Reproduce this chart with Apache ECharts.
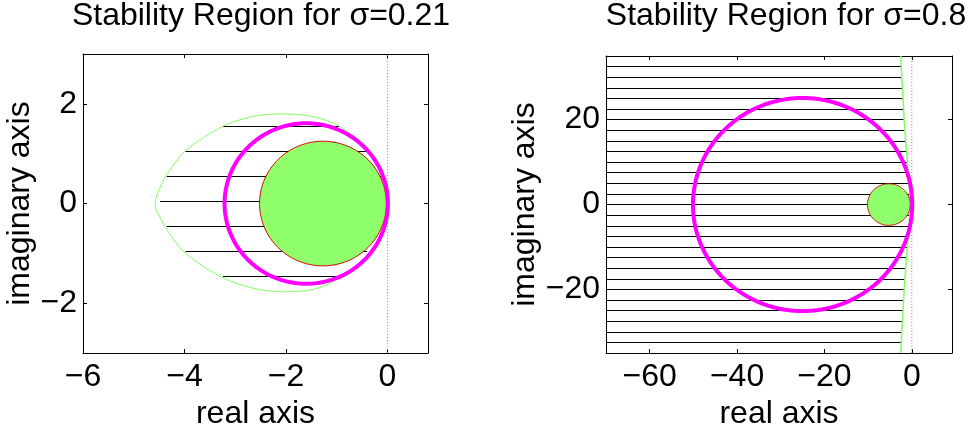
<!DOCTYPE html>
<html><head><meta charset="utf-8">
<script src="https://cdn.jsdelivr.net/npm/echarts@6/dist/echarts.min.js"></script>
<style>html,body{margin:0;padding:0;background:#fff}#c{width:979px;height:435px}</style>
</head><body><div id="c"></div>
<script>
// ---------- Left panel (sigma = 0.21) ----------
const leftTitle = 'Stability Region for σ=0.21';
const leftXTicks = [-6, -4, -2, 0];
const leftYTicks = [-2, 0, 2];
const leftHatchY     = [1.55, 1.05, 0.55, 0.05, -0.45, -0.95, -1.45];
const leftHatchStart = [-3.24, -3.98, -4.35, -4.48, -4.35, -3.98, -3.24];
const leftHatchEnd   = [-0.95, -0.40, -0.12, 0.0, -0.12, -0.40, -0.99];
const leftCurveX = [0, -0.12, -0.38, -0.95, -1.45, -2.04, -2.64, -3.24, -3.98, -4.35, -4.49, -4.56, -4.58, -4.56, -4.49, -4.35, -3.98, -3.24, -2.64, -2.04, -1.45, -0.99, -0.38, -0.12, 0];
const leftCurveY = [0, 0.6, 1.08, 1.55, 1.74, 1.80, 1.75, 1.55, 1.06, 0.58, 0.30, 0.12, 0, -0.12, -0.27, -0.52, -1.0, -1.49, -1.70, -1.77, -1.72, -1.52, -1.05, -0.6, 0];
const leftFillCircle = [-1.27, 0, 1.25];     // centre x, centre y, radius
const leftRing = [-1.6, 0, 1.61];
const leftZeroY = [-3, 3];

// ---------- Right panel (sigma = 0.8) ----------
const rightTitle = 'Stability Region for σ=0.8';
const rightXTicks = [-60, -40, -20, 0];
const rightYTicks = [-20, 0, 20];
const rightHatchY = [32.5, 30, 27.5, 25, 22.5, 20, 17.5, 15, 12.5, 10, 7.5, 5, 2.5, 0,
  -2.5, -5, -7.5, -10, -12.5, -15, -17.5, -20, -22.5, -25, -27.5, -30, -32.5];
const rightHatchStart = -70;
const rightHatchEnd = [-2.4, -2.3, -2.15, -2.0, -1.9, -1.75, -1.6, -1.4, -1.2, -1.0, -0.8, -0.6, -0.45, -0.35,
  -0.45, -0.6, -0.8, -1.0, -1.2, -1.4, -1.6, -1.75, -1.9, -2.0, -2.15, -2.3, -2.4];
const rightCurveX = [-2.5, -2.3, -2.0, -1.75, -1.4, -1.0, -0.6, -0.35, -0.6, -1.0, -1.4, -1.75, -2.0, -2.3, -2.5];
const rightCurveY = [35, 30, 25, 20, 15, 10, 5, 0, -5, -10, -15, -20, -25, -30, -35];
const rightFillCircle = [-5.25, 0, 4.9];
const rightRing = [-25, 0, 25.1];
const rightZeroY = [-35, 35];

const FONT = 'Liberation Sans, Arial, Helvetica, sans-serif';
const FS = 32;
const GREEN_FILL = '#8fff6b';
const GREEN_LINE = '#80ff60';
const MAGENTA = '#ff00ff';
const RED = '#d40000';

const chart = echarts.init(document.getElementById('c'), null, {renderer: 'canvas'});

const grids = [
  {left: 83, top: 54, width: 345, height: 303},
  {left: 606, top: 56, width: 346, height: 304}
];

function fmt(v) { return String(v).replace('-', '\u2212'); }

function makeX(gi, min, max, ticks, pos, showLabel) {
  return {
    type: 'value', gridIndex: gi, min: min, max: max, position: pos,
    name: showLabel ? 'real axis' : '', nameLocation: 'middle', nameGap: 41,
    nameTextStyle: {fontFamily: FONT, fontSize: FS, color: '#000'},
    axisLine: {show: true, onZero: false, lineStyle: {color: '#000', width: 1}},
    axisTick: {show: true, inside: true, length: 4, customValues: ticks, lineStyle: {color: '#000'}},
    axisLabel: {show: showLabel, customValues: ticks, formatter: fmt, margin: 8,
      fontFamily: FONT, fontSize: FS, color: '#000'},
    splitLine: {show: false}
  };
}
function makeY(gi, min, max, ticks, pos, showLabel, gap) {
  return {
    type: 'value', gridIndex: gi, min: min, max: max, position: pos,
    name: showLabel ? 'imaginary axis' : '', nameLocation: 'middle', nameGap: gap,
    nameTextStyle: {fontFamily: FONT, fontSize: FS, color: '#000'},
    axisLine: {show: true, onZero: false, lineStyle: {color: '#000', width: 1}},
    axisTick: {show: true, inside: true, length: 4, customValues: ticks, lineStyle: {color: '#000'}},
    axisLabel: {show: showLabel, customValues: ticks, formatter: fmt, margin: 6,
      fontFamily: FONT, fontSize: FS, color: '#000'},
    splitLine: {show: false}
  };
}

function circleRender(fill, stroke, lw) {
  return function (params, api) {
    const cx = api.value(0), cy = api.value(1), r = api.value(2);
    const pts = [];
    const N = 180;
    for (let i = 0; i <= N; i++) {
      const t = 2 * Math.PI * i / N;
      pts.push(api.coord([cx + r * Math.cos(t), cy + r * Math.sin(t)]));
    }
    return {type: fill ? 'polygon' : 'polyline', shape: {points: pts},
      style: {fill: fill || null, stroke: stroke, lineWidth: lw}};
  };
}

function panelSeries(xi, yi, zeroY, hatchY, hatchS, hatchE, curveX, curveY, fillC, ring, curveW) {
  const hatch = hatchY.map((y, i) => ({coords: [[Array.isArray(hatchS) ? hatchS[i] : hatchS, y], [hatchE[i], y]]}));
  return [
    {type: 'line', xAxisIndex: xi, yAxisIndex: yi, data: zeroY.map(y => [0, y]), symbol: 'none',
      lineStyle: {color: '#888', width: 1, type: [1, 2]}, z: 1, silent: true},
    {type: 'lines', coordinateSystem: 'cartesian2d', xAxisIndex: xi, yAxisIndex: yi, data: hatch,
      lineStyle: {color: '#000', width: 1, opacity: 1}, z: 2, silent: true},
    {type: 'line', xAxisIndex: xi, yAxisIndex: yi, data: curveX.map((x, i) => [x, curveY[i]]),
      symbol: 'none', smooth: 0.3, lineStyle: {color: GREEN_LINE, width: curveW}, z: 3, silent: true},
    {type: 'custom', xAxisIndex: xi, yAxisIndex: yi, data: [fillC], renderItem: circleRender(GREEN_FILL, RED, 1), z: 4, silent: true},
    {type: 'custom', xAxisIndex: xi, yAxisIndex: yi, data: [ring], renderItem: circleRender(null, MAGENTA, 4), z: 5, silent: true}
  ];
}

const option = {
  animation: false,
  backgroundColor: '#fff',
  title: [
    {text: leftTitle, left: 261, top: 0, padding: 0, textAlign: 'center',
      textStyle: {fontFamily: FONT, fontSize: FS, fontWeight: 'normal', color: '#000'}},
    {text: rightTitle, left: 786, top: 0, padding: 0, textAlign: 'center',
      textStyle: {fontFamily: FONT, fontSize: FS, fontWeight: 'normal', color: '#000'}}
  ],
  grid: grids,
  xAxis: [
    makeX(0, -6, 0.8, leftXTicks, 'bottom', true),
    makeX(0, -6, 0.8, leftXTicks, 'top', false),
    makeX(1, -70, 9.2, rightXTicks, 'bottom', true),
    makeX(1, -70, 9.2, rightXTicks, 'top', false)
  ],
  yAxis: [
    makeY(0, -3, 3, leftYTicks, 'left', true, 41),
    makeY(0, -3, 3, leftYTicks, 'right', false, 0),
    makeY(1, -35, 35, rightYTicks, 'left', true, 65),
    makeY(1, -35, 35, rightYTicks, 'right', false, 0)
  ],
  series: [].concat(
    panelSeries(0, 0, leftZeroY, leftHatchY, leftHatchStart, leftHatchEnd, leftCurveX, leftCurveY, leftFillCircle, leftRing, 1),
    panelSeries(2, 2, rightZeroY, rightHatchY, rightHatchStart, rightHatchEnd, rightCurveX, rightCurveY, rightFillCircle, rightRing, 1.5)
  )
};
chart.setOption(option);
</script>
</body></html>
